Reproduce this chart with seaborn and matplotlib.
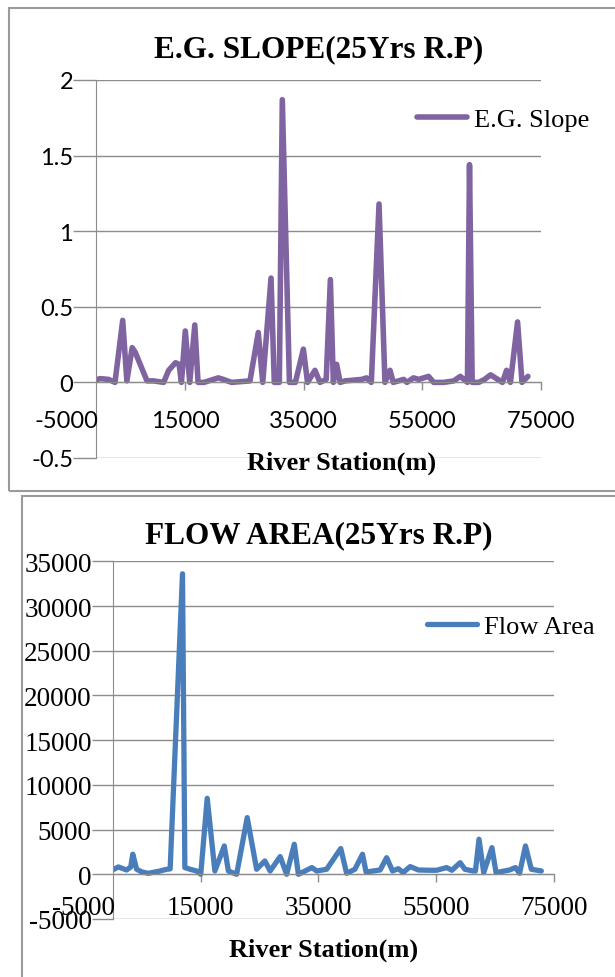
import pandas as pd
import matplotlib
import matplotlib.pyplot as plt
import seaborn as sns
from matplotlib.patches import Rectangle
from matplotlib.ticker import FuncFormatter

matplotlib.use('Agg')

# E.G. slope along the river (25 yr return period)
slope_station = [0, 700, 2100, 3200, 4500, 5200, 6100, 6600, 8600, 9700,
                 11400, 12250, 13400, 14000, 14400, 15050, 15800, 16650, 17200, 18200,
                 19800, 20600, 21450, 22850, 25950, 27350, 28100, 29500, 30050, 30900,
                 31400, 32600, 33600, 34950, 35650, 36900, 37750, 38800, 39500, 40000,
                 40550, 41150, 42000, 44800, 45600, 46400, 47700, 48700, 49550, 50100,
                 51850, 52400, 53500, 54400, 56050, 56900, 58600, 60300, 61400, 62000,
                 62600, 62950, 63400, 64500, 65500, 66500, 68500, 69200, 69850, 71050,
                 71800, 72800]
slope_value = [0.017, 0.025, 0.02, 0.0, 0.41, 0.01, 0.23, 0.2, 0.01, 0.01,
               0.0, 0.08, 0.13, 0.12, 0.0, 0.34, 0.0, 0.38, 0.0, 0.0,
               0.02, 0.03, 0.02, 0.0, 0.01, 0.33, 0.0, 0.69, 0.0, 0.0,
               1.87, 0.0, 0.0, 0.22, 0.0, 0.08, 0.0, 0.02, 0.68, 0.0,
               0.12, 0.0, 0.01, 0.02, 0.03, 0.0, 1.18, 0.0, 0.08, 0.0,
               0.02, 0.0, 0.03, 0.02, 0.04, 0.0, 0.0, 0.01, 0.04, 0.02,
               0.0, 1.44, 0.0, 0.0, 0.02, 0.05, 0.0, 0.08, 0.0, 0.40,
               0.0, 0.04]

# flow area along the river (25 yr return period)
flow_station = [0, 1000, 2400, 3100, 3450, 4100, 5000, 6100, 8100, 9200,
                9800, 11900, 12300, 13200, 14300, 15000, 16100, 17400, 19000, 19700,
                21100, 22900, 24500, 25900, 26800, 28500, 29600, 30900, 31600, 33900,
                34700, 36400, 38800, 39800, 41200, 42500, 43100, 45500, 46600, 47600,
                48600, 49400, 50600, 52000, 54000, 55100, 56800, 57700, 59100, 59900,
                61300, 61700, 62300, 63100, 64500, 65200, 67500, 68500, 69200, 70200,
                71200, 72900]
flow_value = [480, 820, 480, 820, 2250, 560, 260, 110, 370, 560,
              600, 33600, 750, 560, 370, 0, 8500, 370, 3170, 370,
              0, 6340, 560, 1490, 370, 1980, 0, 3360, 0, 750,
              370, 560, 2880, 110, 560, 2240, 260, 480, 1860, 370,
              630, 190, 860, 480, 450, 450, 750, 450, 1300, 560,
              370, 370, 3920, 190, 2980, 190, 480, 750, 110, 3170,
              560, 370]

x_ticks = [15000, 35000, 55000, 75000]
slope_ticks = [-0.5, 0, 0.5, 1, 1.5, 2]
flow_ticks = [-5000, 0, 5000, 10000, 15000, 20000, 25000, 30000, 35000]

W, H = 615, 978
GRID = '#8c8c8c'
SERIF = 'Liberation Serif'


def fx(px):
    return px / W


def fy(py):
    return 1 - py / H


def style_axes(ax, ylim, yticks, tick_font, tick_size, ylen, xpad, fmt):
    ax.set_xlim(0, 75000)
    ax.set_ylim(*ylim)
    ax.set_yticks(yticks)
    ax.set_xticks(x_ticks)
    ax.yaxis.set_major_formatter(FuncFormatter(fmt))
    ax.xaxis.set_major_formatter(FuncFormatter(lambda v, p: f'{v:.0f}'))
    ax.grid(axis='y', color=GRID, lw=1.0)
    ax.grid(axis='x', visible=False)
    ax.set_axisbelow(True)
    for s in ['top', 'right']:
        ax.spines[s].set_visible(False)
    ax.spines['left'].set_color(GRID)
    ax.spines['bottom'].set_color(GRID)
    ax.spines['bottom'].set_position(('data', 0))
    ax.tick_params(axis='y', length=ylen, pad=0, color=GRID, width=1.0)
    ax.tick_params(axis='x', length=6, pad=xpad, color=GRID, width=1.0)
    for lab in ax.get_xticklabels() + ax.get_yticklabels():
        lab.set_fontfamily(tick_font)
        lab.set_fontsize(tick_size)
    ax.set_xlabel('')
    ax.set_ylabel('')
    ax.set_facecolor('white')
    # the '-5000' label sits left of the plot area, as in the original chart
    ax.annotate('-5000', xy=(-5000, 0), xycoords='data',
                xytext=(0, -(6 + xpad)), textcoords='offset points',
                ha='center', va='top', fontsize=tick_size, family=tick_font,
                annotation_clip=False)


fig = plt.figure(figsize=(W / 100, H / 100), dpi=100)
fig.patch.set_facecolor('white')

# chart frames
fig.add_artist(Rectangle((fx(9), fy(492)), 1.0, fy(9) - fy(492),
                         transform=fig.transFigure, fill=False, ec='#9a9a9a', lw=1.5))
fig.add_artist(Rectangle((fx(22), -0.05), 1.0, fy(497) + 0.05,
                         transform=fig.transFigure, fill=False, ec='#9a9a9a', lw=1.5))

# --- top chart: E.G. slope
df1 = pd.DataFrame({'River Station': slope_station, 'E.G. Slope': slope_value})
ax1 = fig.add_axes([fx(96), fy(459), fx(541) - fx(96), fy(81) - fy(459)])
sns.lineplot(data=df1, x='River Station', y='E.G. Slope', ax=ax1, color='#8064a2',
             lw=4.0, label='E.G. Slope', solid_joinstyle='round', solid_capstyle='round')
style_axes(ax1, (-0.5, 2), slope_ticks, 'Lato', 17, 16.5, 14,
           lambda v, p: f'{v:g}')
ax1.legend(loc='center left', bbox_to_anchor=(fx(417), fy(120)),
           bbox_transform=fig.transFigure, frameon=False, borderpad=0,
           borderaxespad=0, handlelength=1.9, handletextpad=0.25,
           prop={'family': SERIF, 'size': 19})
fig.text(fx(318.5), fy(50), 'E.G. SLOPE(25Yrs R.P)', ha='center', va='center',
         fontsize=22.5, fontweight='bold', family=SERIF)
fig.text(fx(342), fy(463), 'River Station(m)', ha='center', va='center',
         fontsize=19, fontweight='bold', family=SERIF)

# --- bottom chart: flow area
df2 = pd.DataFrame({'River Station': flow_station, 'Flow Area': flow_value})
ax2 = fig.add_axes([fx(112.5), fy(920), fx(553.7) - fx(112.5), fy(562.3) - fy(920)])
sns.lineplot(data=df2, x='River Station', y='Flow Area', ax=ax2, color='#4a7ebb',
             lw=3.8, label='Flow Area', solid_joinstyle='round', solid_capstyle='round')
style_axes(ax2, (-5000, 35000), flow_ticks, SERIF, 19.5, 15, 9,
           lambda v, p: f'{v:.0f}')
ax2.legend(loc='center left', bbox_to_anchor=(fx(427), fy(627)),
           bbox_transform=fig.transFigure, frameon=False, borderpad=0,
           borderaxespad=0, handlelength=1.9, handletextpad=0.25,
           prop={'family': SERIF, 'size': 19})
fig.text(fx(318.5), fy(536), 'FLOW AREA(25Yrs R.P)', ha='center', va='center',
         fontsize=22.5, fontweight='bold', family=SERIF)
fig.text(fx(323.5), fy(950), 'River Station(m)', ha='center', va='center',
         fontsize=19, fontweight='bold', family=SERIF)

fig.savefig('out.png', dpi=100, facecolor='white')
plt.close(fig)
